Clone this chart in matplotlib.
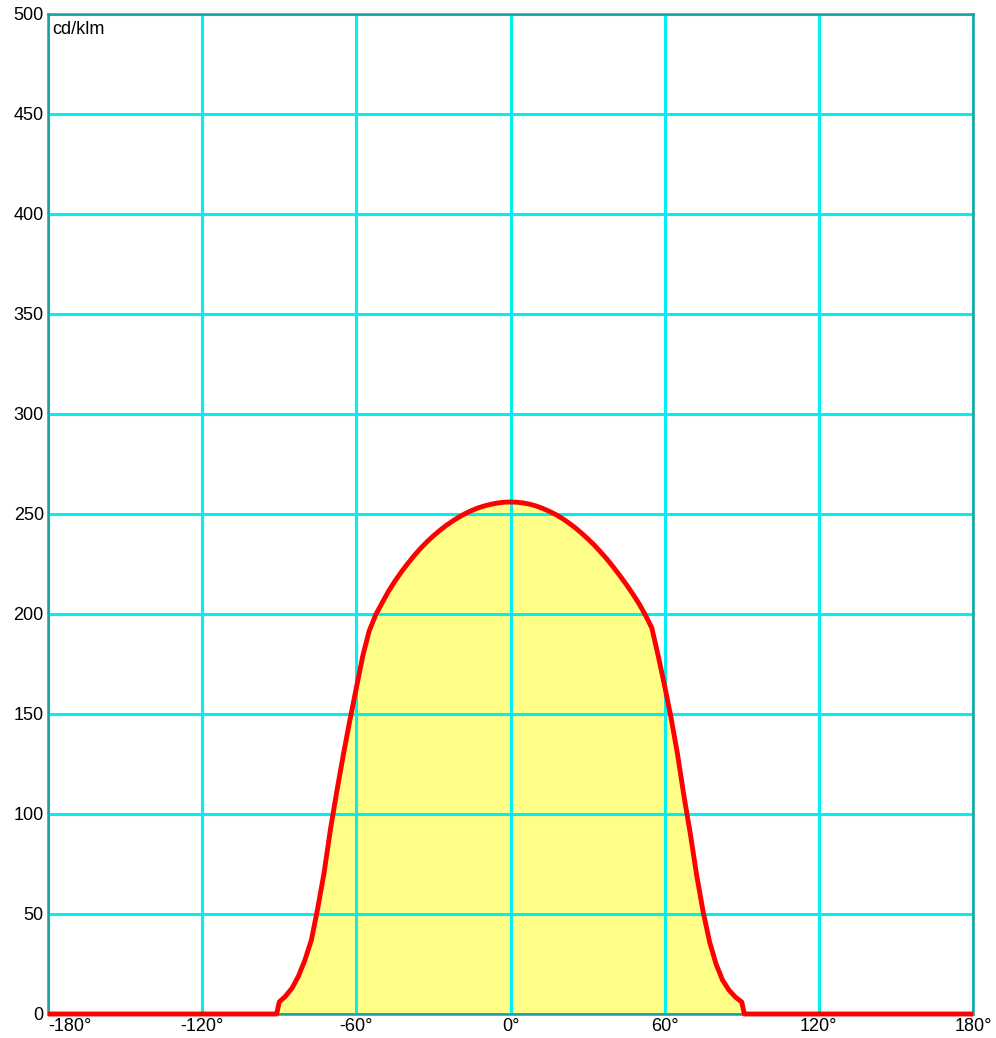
import matplotlib
matplotlib.use("Agg")
import matplotlib.pyplot as plt

angles = [-180, -91, -90, -87.5, -85, -82.5, -80, -77.5, -75, -72.5, -70, -67.5,
          -65, -62.5, -60, -57.5, -55, -52.5, -50, -47.5, -45, -42.5, -40, -37.5,
          -35, -32.5, -30, -27.5, -25, -22.5, -20, -17.5, -15, -12.5, -10, -7.5,
          -5, -2.5, 0, 2.5, 5, 7.5, 10, 12.5, 15, 17.5, 20, 22.5, 25, 27.5, 30,
          32.5, 35, 37.5, 40, 42.5, 45, 47.5, 50, 52.5, 55, 57.5, 60, 62.5, 65,
          67.5, 70, 72.5, 75, 77.5, 80, 82.5, 85, 87.5, 90, 91, 180]
intensity = [0, 0, 6, 9, 13, 19, 27, 37, 53, 71, 93, 112,
             130, 147, 163, 179, 191.5, 199.5, 205.5, 211.3, 216.4, 221, 225.2, 229.2,
             232.8, 236.1, 239.1, 241.8, 244.3, 246.5, 248.5, 250.3, 251.8, 253.1, 254.1, 254.9,
             255.5, 255.9, 256, 255.9, 255.5, 254.9, 254, 252.8, 251.4, 249.8, 247.9, 245.7,
             243.3, 240.6, 237.7, 234.6, 231.1, 227.5, 223.5, 219.3, 214.9, 210.2, 205.2,
             199.5, 193, 179, 164, 148, 130, 109, 90, 69, 51, 36, 25, 17, 12, 8.5, 6, 0, 0]
xticks = [-180, -120, -60, 0, 60, 120, 180]
xticklabels = ["-180°", "-120°", "-60°", "0°", "60°", "120°", "180°"]
yticks = list(range(0, 501, 50))
unit_label = "cd/klm"

plt.rcParams['font.family'] = ['Liberation Sans', 'DejaVu Sans']

fig = plt.figure(figsize=(9.96, 10.38), dpi=100)
ax = fig.add_axes([48/996, 24/1038, 925/996, 1000/1038])
ax.set_xlim(-180, 180)
ax.set_ylim(0, 500)

ax.fill_between(angles, intensity, 0, color="#ffff88", linewidth=0, zorder=1)
ax.set_xticks(xticks)
ax.set_xticklabels(xticklabels)
ax.set_yticks(yticks)
ax.grid(True, color="#00f0f0", linewidth=2.2, zorder=2)
ax.set_axisbelow(False)
ax.plot(angles, intensity, color="#ff0000", linewidth=3.5, zorder=4,
        solid_joinstyle="round", solid_capstyle="butt", clip_on=False)

ax.tick_params(length=0, labelsize=13, colors="black")
ax.tick_params(axis="y", pad=3)
ax.tick_params(axis="x", pad=3)
labs = ax.get_xticklabels()
labs[0].set_horizontalalignment("left")

for s in ax.spines.values():
    s.set_color("#1aa0a0")
    s.set_linewidth(1.8)
    s.set_zorder(3)

ax.text(0.005, 0.993, unit_label, transform=ax.transAxes, ha="left", va="top",
        fontsize=13, zorder=5)

fig.savefig("out.png", dpi=100, facecolor="white")
